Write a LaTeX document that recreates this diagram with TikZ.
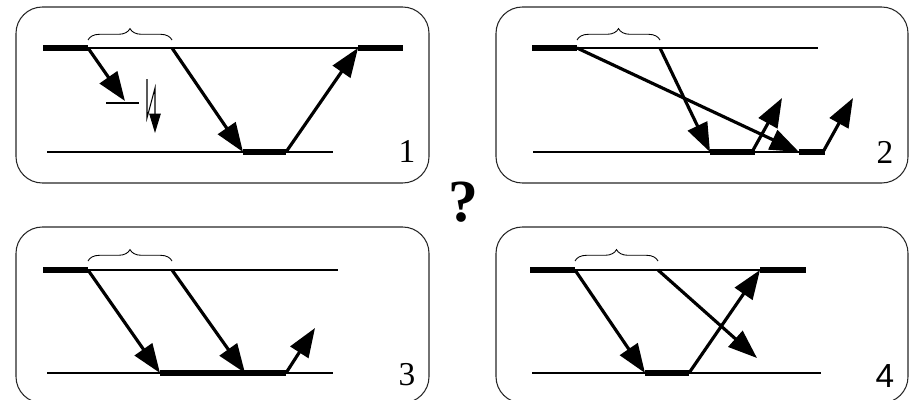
\documentclass[tikz,border=0pt]{standalone}
\usepackage{fontspec}
\setmainfont{Liberation Serif}
\newfontfamily\numsans{Liberation Sans}
\usepackage{tikz}
\usetikzlibrary{arrows.meta,decorations.pathreplacing}
\definecolor{cInk}{HTML}{000000}
\definecolor{cFrame}{HTML}{262626}
\tikzset{
  frame/.style={draw=cFrame, line width=0.6pt, rounded corners=15pt},
  surf/.style={cInk, line width=0.6pt},
  pad/.style={cInk, line width=3.7pt},
  ray/.style={-{Triangle[length=16.5pt,width=12pt]}, cInk, line width=1.8pt},
  bolt/.style={-{Triangle[length=11pt,width=6.5pt]}, cInk, line width=0.6pt},
  gap/.style={decorate, decoration={brace, amplitude=6.5pt}, cInk, line width=0.5pt},
  num/.style={font=\fontsize{19}{19}\selectfont}
}

\begin{document}
\begin{tikzpicture}[x=0.02cm, y=-0.02cm]
\useasboundingbox (0,0) rectangle (911,399);

% panel 1
\draw[frame] (16,7) rectangle (429,183);
\coordinate (a1) at (43,48);  \coordinate (b1) at (88,48);
\coordinate (c1) at (172,48); \coordinate (d1) at (358,48);
\coordinate (e1) at (403,48); \coordinate (f1) at (47,152);
\coordinate (g1) at (243,152); \coordinate (h1) at (286,152);
\coordinate (i1) at (333,152); \coordinate (t1) at (125,101);
\draw[surf] (b1) -- (d1);
\draw[surf] (f1) -- (i1);
\draw[pad] (a1) -- (b1);
\draw[pad] (d1) -- (e1);
\draw[pad] (g1) -- (h1);
\draw[gap] (88,40) -- (172,40);
\draw[ray] (b1) -- (t1);
\draw[ray] (c1) -- (g1);
\draw[ray] (h1) -- (d1);
\draw[surf] (106,103) -- (139,103);
\draw[bolt] (147,79) -- (147,118) -- (155,88) -- (155,133);
\node[num] (n1) at (407,151) {1};

% panel 2
\begin{scope}[shift={(480,0)}]
\draw[frame] (16,7) rectangle (428,183);
\coordinate (a2) at (52,48);  \coordinate (b2) at (97,48);
\coordinate (c2) at (180,48); \coordinate (d2) at (338,48);
\coordinate (f2) at (53,152); \coordinate (g2) at (230,152);
\coordinate (h2) at (275,152); \coordinate (k2) at (319,152);
\coordinate (l2) at (345,152);
\coordinate (u2) at (302,98); \coordinate (v2) at (373,98);
\draw[surf] (b2) -- (d2);
\draw[surf] (f2) -- (k2);
\draw[pad] (a2) -- (b2);
\draw[pad] (g2) -- (h2);
\draw[pad] (k2) -- (l2);
\draw[gap] (97,40) -- (180,40);
\draw[ray] (b2) -- (k2);
\draw[ray] (c2) -- (g2);
\draw[ray] (272,152) -- (u2);
\draw[ray] (343,152) -- (v2);
\node[num] (n2) at (405,152) {2};
\end{scope}

% panel 3
\begin{scope}[shift={(0,221)}]
\draw[frame] (16,6) rectangle (429,182);
\coordinate (a3) at (43,49);  \coordinate (b3) at (88,49);
\coordinate (c3) at (172,49); \coordinate (d3) at (338,49);
\coordinate (f3) at (47,152); \coordinate (g3) at (160,152);
\coordinate (m3) at (245,152); \coordinate (h3) at (286,152);
\coordinate (i3) at (333,152); \coordinate (u3) at (315,107);
\draw[surf] (b3) -- (d3);
\draw[surf] (f3) -- (i3);
\draw[pad] (a3) -- (b3);
\draw[pad] (g3) -- (h3);
\draw[gap] (88,40) -- (172,40);
\draw[ray] (b3) -- (g3);
\draw[ray] (c3) -- (m3);
\draw[ray] (h3) -- (u3);
\node[num] (n3) at (407,154) {3};
\end{scope}

% panel 4
\begin{scope}[shift={(480,221)}]
\draw[frame] (16,6) rectangle (428,182);
\coordinate (a4) at (50,49);  \coordinate (b4) at (95,49);
\coordinate (c4) at (178,49); \coordinate (d4) at (280,49);
\coordinate (e4) at (326,49); \coordinate (f4) at (52,152);
\coordinate (g4) at (165,152); \coordinate (h4) at (209,152);
\coordinate (i4) at (341,152); \coordinate (u4) at (277,137);
\draw[surf] (b4) -- (d4);
\draw[surf] (f4) -- (i4);
\draw[pad] (a4) -- (b4);
\draw[pad] (d4) -- (e4);
\draw[pad] (g4) -- (h4);
\draw[gap] (95,40) -- (178,40);
\draw[ray] (b4) -- (g4);
\draw[ray] (c4) -- (u4);
\draw[ray] (h4) -- (d4);
\node[num, font=\numsans\fontsize{19}{19}\selectfont] (n4) at (405,155) {4};
\end{scope}

\node[font=\fontsize{34}{34}\selectfont\bfseries] (q) at (463,202) {?};
\end{tikzpicture}
\end{document}
